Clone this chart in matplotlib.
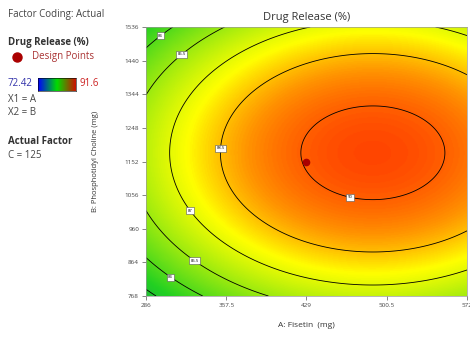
import numpy as np
import matplotlib
matplotlib.use("Agg")
import matplotlib.pyplot as plt
from matplotlib.colors import LinearSegmentedColormap

plt.rcParams['font.family'] = ['Open Sans', 'DejaVu Sans']

# factor ranges (actual units) and tick labels
a_low, a_high = 286, 572
b_low, b_high = 768, 1536
x_ticks = [286, 357.5, 429, 500.5, 572]
y_ticks = [768, 864, 960, 1056, 1152, 1248, 1344, 1440, 1536]

# quadratic model in coded factors: b0, A, B, A^2, B^2
b0, bA, bB, bAA, bBB = 90.05, 1.77, 0.46, -2.14, -3.55

contour_levels = [82.5, 84.0, 85.5, 87.0, 88.5, 90.0]
label_pos = [(468, 1053), (350, 1190), (325, 1011), (330, 871),
             (308, 822), (314, 1473), (295, 1527)]

# design point
design_a = [429]
design_b = [1152]

resp_min, resp_max = 72.42, 91.6

cmap = LinearSegmentedColormap.from_list(
    "de", [(0.0, "#0000ff"), (0.55, "#22d022"), (0.79, "#ffff00"),
           (0.875, "#ff9000"), (0.96, "#ff3000"), (1.0, "#ff0000")])

a = np.linspace(a_low, a_high, 300)
b = np.linspace(b_low, b_high, 300)
AA, BB = np.meshgrid(a, b)
A = (AA - 429) / 143
B = (BB - 1152) / 384
Z = b0 + bA * A + bB * B + bAA * A**2 + bBB * B**2

fig = plt.figure(figsize=(4.7, 3.4), dpi=100)
ax = fig.add_axes([146 / 470, 1 - 296 / 340, 321 / 470, 269 / 340])

ax.imshow(Z, extent=[a_low, a_high, b_low, b_high], origin='lower',
          cmap=cmap, vmin=resp_min, vmax=resp_max, aspect='auto',
          interpolation='bilinear')
cs = ax.contour(AA, BB, Z, levels=contour_levels, colors='black', linewidths=0.6)
labels = ax.clabel(cs, fmt='%g', fontsize=3, inline=False, manual=label_pos)
for t in labels:
    t.set_rotation(0)
    t.set_bbox(dict(boxstyle='square,pad=0.35', fc='white', ec='#555555', lw=0.4))

ax.plot(design_a, design_b, 'o', color='#aa0000', markersize=4.5)

ax.set_xlim(a_low, a_high)
ax.set_ylim(b_low, b_high)
ax.set_xticks(x_ticks)
ax.set_xticklabels(['286', '357.5', '429', '500.5', '572'])
ax.set_yticks(y_ticks)
ax.tick_params(labelsize=4.5, length=3, width=0.5, color='#555555',
               labelcolor='#444444', pad=2)
for s in ax.spines.values():
    s.set_color('#999999')
    s.set_linewidth(0.5)

ax.set_title('Drug Release (%)', fontsize=8, color='#333333', pad=5)
ax.set_xlabel('A: Fisetin  (mg)', fontsize=6, color='#333333', labelpad=10)
ax.set_ylabel('B: Phosphotidyl Choline (mg)', fontsize=5.5, color='#333333', labelpad=18)

# left-side legend block
fs = 7
fig.text(8 / 470, 1 - 15 / 340, 'Factor Coding: Actual', fontsize=fs,
         color='#444444', va='center')
fig.text(8 / 470, 1 - 43 / 340, 'Drug Release (%)', fontsize=fs,
         weight='bold', color='#333333', va='center')
fig.text(32 / 470, 1 - 57 / 340, 'Design Points', fontsize=fs,
         color='#aa3333', va='center')
fig.lines.append(plt.Line2D([17 / 470], [1 - 57 / 340], marker='o', color='#aa0000',
                            markersize=6.5, transform=fig.transFigure))
fig.text(8 / 470, 1 - 84 / 340, '72.42', fontsize=fs, color='#3333aa', va='center')
fig.text(80 / 470, 1 - 84 / 340, '91.6', fontsize=fs, color='#cc2222', va='center')
cax = fig.add_axes([38 / 470, 1 - 91 / 340, 38 / 470, 13 / 340])
bar_cmap = LinearSegmentedColormap.from_list(
    "bar", ["#0000ff", "#00dd00", "#cc1100"])
cax.imshow(np.linspace(0, 1, 100)[None, :], cmap=bar_cmap, aspect='auto')
cax.set_xticks([])
cax.set_yticks([])
for s in cax.spines.values():
    s.set_linewidth(0.4)
fig.text(8 / 470, 1 - 99 / 340, 'X1 = A', fontsize=fs, color='#444444', va='center')
fig.text(8 / 470, 1 - 113 / 340, 'X2 = B', fontsize=fs, color='#444444', va='center')
fig.text(8 / 470, 1 - 141 / 340, 'Actual Factor', fontsize=fs,
         weight='bold', color='#333333', va='center')
fig.text(8 / 470, 1 - 156 / 340, 'C = 125', fontsize=fs, color='#444444', va='center')

fig.savefig('out.png', dpi=100)
